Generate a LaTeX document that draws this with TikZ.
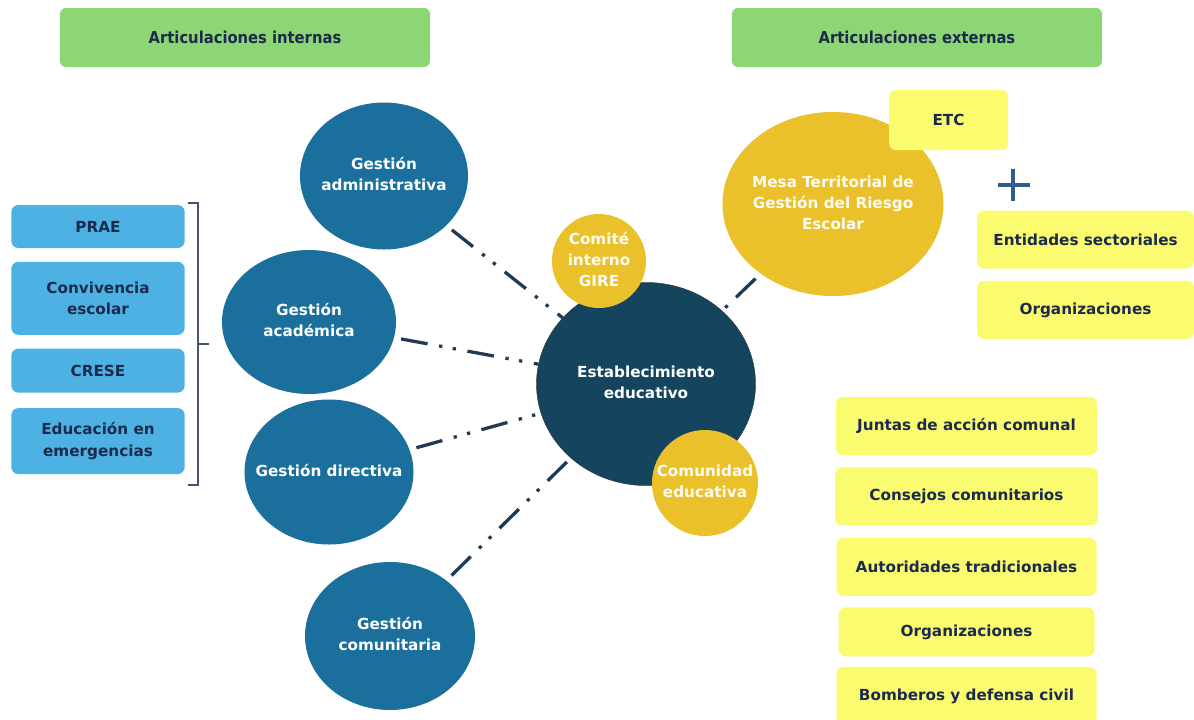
\documentclass[tikz,border=0pt]{standalone}
\usepackage{fontspec}
\setmainfont{DejaVu Sans}
\newfontfamily\headfont{DejaVu Sans Condensed}
\usetikzlibrary{shapes.geometric, positioning}
\definecolor{gestblue}{HTML}{1B6F9C}
\definecolor{coreblue}{HTML}{15455E}
\definecolor{gold}{HTML}{EBC12B}
\definecolor{paleyellow}{HTML}{FBFB70}
\definecolor{skyblue}{HTML}{4DB1E3}
\definecolor{leafgreen}{HTML}{8DD676}
\definecolor{inkblue}{HTML}{1C2A4B}
\definecolor{linkblue}{HTML}{1F3A55}
\definecolor{plusblue}{HTML}{2E5D8F}
\newcommand{\circtext}[1]{\makebox[0pt]{\begin{tabular}{@{}c@{}}#1\end{tabular}}}
\tikzstyle{header} = [rectangle, font=\headfont\bfseries\fontsize{14}{16}\selectfont, rounded corners=5pt, minimum width=11.1cm, minimum height=1.77cm, text centered, fill=leafgreen, text=inkblue]
\tikzstyle{gestion} = [ellipse, font=\bfseries\fontsize{13}{18}\selectfont, inner sep=0pt, fill=gestblue, text=white]
\tikzstyle{core} = [ellipse, font=\bfseries\fontsize{13}{18}\selectfont, inner sep=0pt, fill=coreblue, draw=black!80, text=white]
\tikzstyle{goldcirc} = [ellipse, font=\bfseries\fontsize{13}{18}\selectfont, inner sep=0pt, fill=gold, text=white!95!gold]
\tikzstyle{inbox} = [rectangle, font=\bfseries\fontsize{13}{18}\selectfont, rounded corners=6pt, minimum width=5.2cm, align=center, fill=skyblue, text=inkblue]
\tikzstyle{outbox} = [rectangle, font=\bfseries\fontsize{13}{18}\selectfont, rounded corners=6pt, minimum height=1.74cm, text centered, fill=paleyellow, text=inkblue]
\tikzstyle{link} = [line width=2.8pt, draw=linkblue, shorten <=6pt, dash pattern=on 23pt off 10pt on 2.8pt off 9pt on 2.8pt off 10pt]

\begin{document}
\begin{tikzpicture}[x=0.03cm, y=-0.03cm, node distance=0.36cm]
\useasboundingbox [fill=white] (0,0) rectangle (1194,719);

\node (headInt) [header] at (245,37.5) {Articulaciones internas};
\node (headExt) [header] at (917,37.5) {Articulaciones externas};

\node (prae) [inbox, minimum height=1.29cm] at (98,226.5) {PRAE};
\node (conv) [inbox, minimum height=2.19cm, below=0.4cm of prae] {Convivencia\\escolar};
\node (crese) [inbox, minimum height=1.32cm, below=0.4cm of conv] {CRESE};
\node (emerg) [inbox, minimum height=1.98cm, below=0.45cm of crese] {Educación en\\emergencias};
\draw [inkblue!80, line width=1pt] (188,203) -| (198,485) -- (188,485);
\draw [inkblue!80, line width=1pt] (198,344) -- (209,344);

\node (admin) [gestion, minimum width=5.04cm, minimum height=4.41cm] at (384,176) {\circtext{Gestión\\administrativa}};
\node (acad) [gestion, minimum width=5.22cm, minimum height=4.32cm] at (309,322) {\circtext{Gestión\\académica}};
\node (direc) [gestion, minimum width=5.07cm, minimum height=4.35cm] at (329,472) {\circtext{Gestión directiva}};
\node (comun) [gestion, minimum width=5.1cm, minimum height=4.44cm] at (390,636) {\circtext{Gestión\\comunitaria}};
\node (estab) [core, minimum width=6.57cm, minimum height=6.09cm] at (646,384) {\circtext{Establecimiento\\educativo}};
\node (comite) [goldcirc, minimum size=2.82cm] at (599,261) {\circtext{Comité\\interno\\GIRE}};
\node (comed) [goldcirc, minimum size=3.18cm] at (705,483) {\circtext{Comunidad\\educativa}};
\node (mesa) [goldcirc, minimum width=6.63cm, minimum height=5.52cm] at (833,204) {\circtext{Mesa Territorial de\\Gestión del Riesgo\\Escolar}};
\node (etc) [outbox, minimum width=3.57cm, minimum height=1.8cm] at (948.5,120) {ETC};

\draw [plusblue, line width=2.8pt] (998,185) -- (1030,185);
\draw [plusblue, line width=2.8pt] (1013,169) -- (1013,201);

\node (sector) [outbox, minimum width=6.51cm] at (1085.5,239.5) {Entidades sectoriales};
\node (orgA) [outbox, minimum width=6.51cm, below=of sector] {Organizaciones};

\node (juntas) [outbox, minimum width=7.83cm] at (966.5,426) {Juntas de acción comunal};
\node (consejos) [outbox, minimum width=7.89cm, below=of juntas] {Consejos comunitarios};
\node (autor) [outbox, minimum width=7.8cm, below=of consejos] {Autoridades tradicionales};
\node (orgB) [outbox, minimum width=7.68cm, minimum height=1.47cm, below=0.33cm of autor] {Organizaciones};
\node (bomb) [outbox, minimum width=7.8cm, minimum height=1.74cm, below=0.3cm of orgB] {Bomberos y defensa civil};

\draw [link] (admin) -- (estab);
\draw [link] (acad) -- (estab);
\draw [link] (direc) -- (estab);
\draw [link] (comun) -- (estab);
\draw [link] (mesa) -- (estab);
\end{tikzpicture}
\end{document}
